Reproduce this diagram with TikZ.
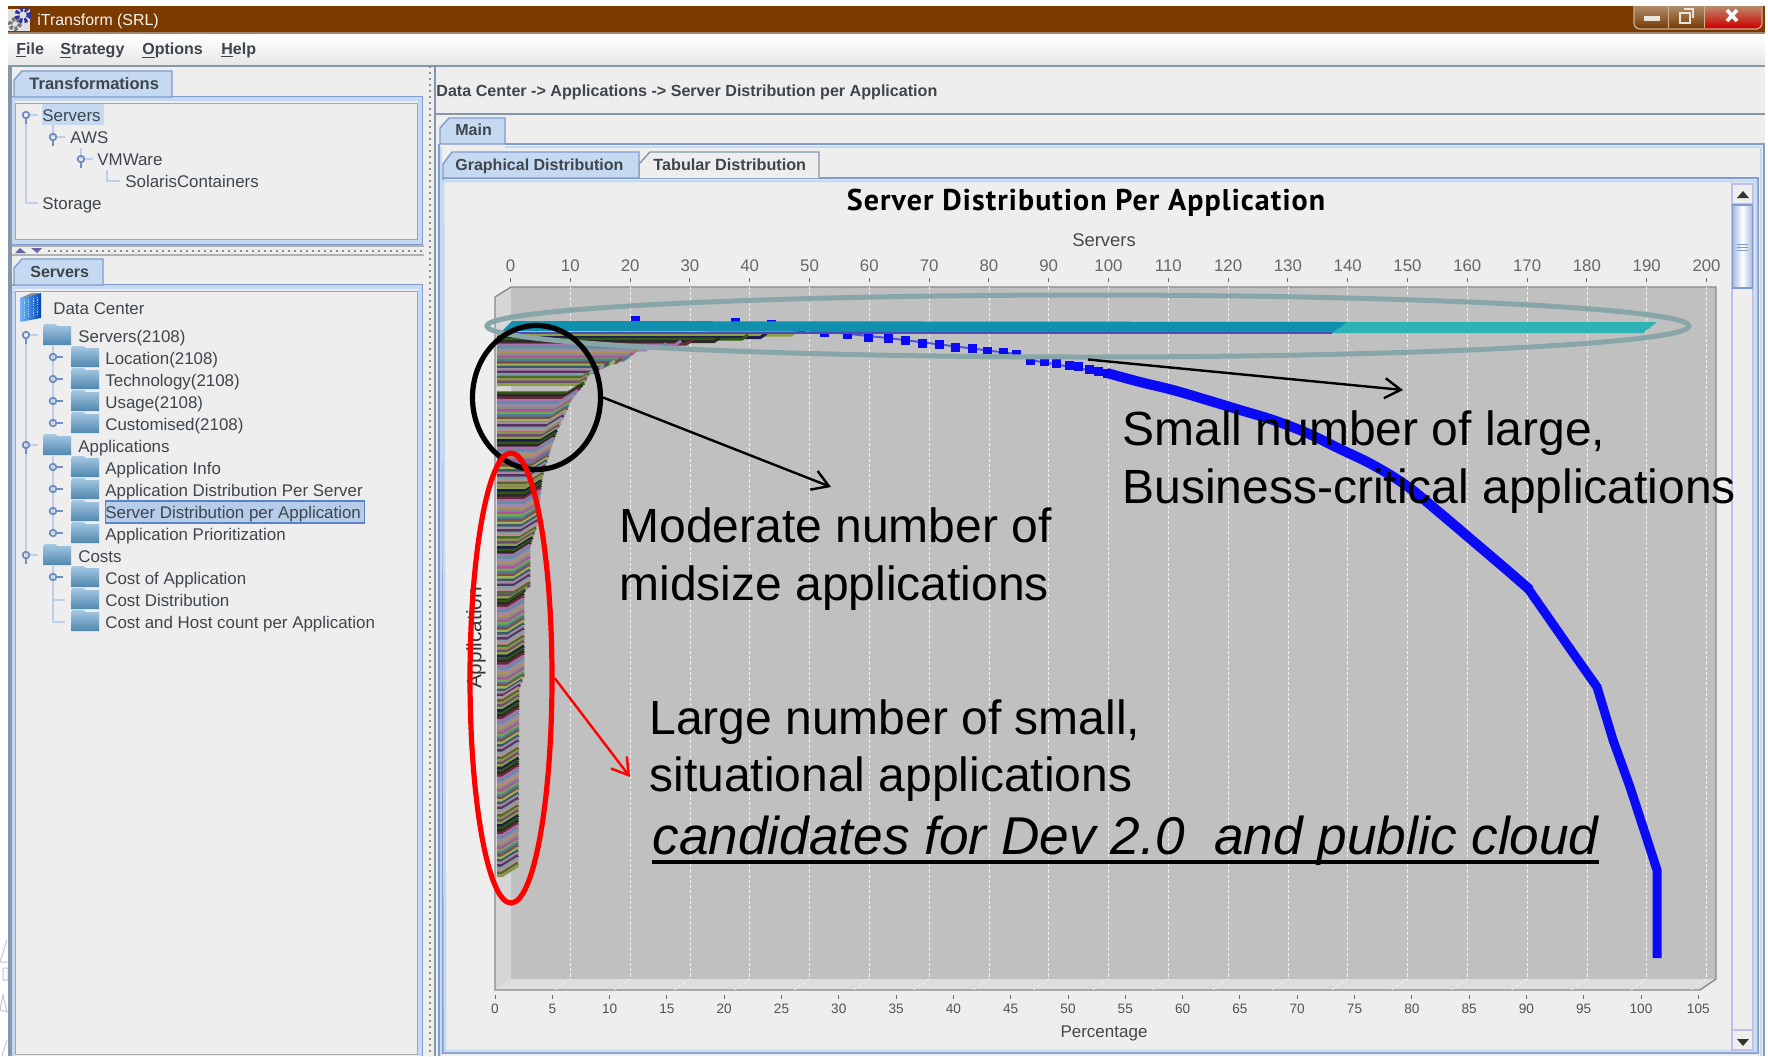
\documentclass[tikz,border=0pt]{standalone}
\usepackage{fontspec}
\usetikzlibrary{shapes.geometric,arrows.meta}
\setmainfont{Liberation Sans}
\newfontfamily\titlefont[LetterSpace=3.6]{PT Sans}
\definecolor{winbg}{HTML}{EEEEEE}
\definecolor{brown}{HTML}{7B3B00}
\definecolor{tabb}{HTML}{7F9BCF}
\definecolor{tabl}{HTML}{C5DAF0}
\definecolor{graybl}{HTML}{8496A8}
\definecolor{treeline}{HTML}{BDD0E8}
\definecolor{handle}{HTML}{6F8FC0}
\definecolor{txt}{HTML}{3E454C}
\definecolor{wall}{HTML}{C0C0C0}
\definecolor{wallL}{HTML}{D6D6D6}
\definecolor{floorc}{HTML}{DDDDDD}
\definecolor{frameg}{HTML}{8A8A8A}
\definecolor{curve}{HTML}{0A0AF5}
\definecolor{ringg}{HTML}{88A5A8}
\definecolor{teal1}{HTML}{2DB3B3}
\definecolor{teal2}{HTML}{1090AE}
\definecolor{foldtop}{HTML}{A6C8E2}
\definecolor{foldbot}{HTML}{4F88B0}
\definecolor{selfill}{HTML}{B5CDE9}
\definecolor{selline}{HTML}{5B82C8}
% bar palette
\definecolor{c0}{HTML}{6A4A78}\definecolor{c1}{HTML}{8AA040}\definecolor{c2}{HTML}{1C1C50}
\definecolor{c3}{HTML}{2F5A10}\definecolor{c4}{HTML}{2A2A2A}\definecolor{c5}{HTML}{6A2A3A}
\definecolor{c6}{HTML}{A870B0}\definecolor{c7}{HTML}{60909A}\definecolor{c8}{HTML}{9A88B8}
\definecolor{c9}{HTML}{B09060}\definecolor{c10}{HTML}{8A8A8A}\definecolor{c11}{HTML}{B050A0}
\definecolor{c12}{HTML}{70A850}\definecolor{c13}{HTML}{507A9A}\definecolor{c14}{HTML}{7A5040}
\definecolor{c15}{HTML}{9CB060}\definecolor{c16}{HTML}{3A5A6A}\definecolor{c17}{HTML}{A08AA0}
\definecolor{c18}{HTML}{5A3060}\definecolor{c19}{HTML}{7AA0A8}\definecolor{c20}{HTML}{C08A90}
\definecolor{c21}{HTML}{4A6A30}\definecolor{c22}{HTML}{909050}
\newcount\barcnt
\tikzset{
  x=0.5pt,y=-0.5pt,
  treelab/.style={anchor=base west,inner sep=0pt,text=txt,font=\fontsize{8.45}{10}\selectfont},
  boldlab/.style={anchor=base west,inner sep=0pt,text=txt,font=\bfseries\fontsize{8}{10}\selectfont},
  toptick/.style={inner sep=0pt,text=black!60,font=\fontsize{8.4}{10}\selectfont},
  bottick/.style={inner sep=0pt,text=black!68,font=\fontsize{6.8}{8}\selectfont},
  axlab/.style={inner sep=0pt,text=black!72},
  callout/.style={anchor=base west,inner sep=0pt,text=black,font=\fontsize{24}{28}\selectfont},
  ring/.style={ellipse,draw,inner sep=0pt,fill=none},
  tip/.style={-{Straight Barb[length=8pt,width=10pt,line width=1.2pt]},line width=1.2pt},
  tabact/.style={fill=tabl,draw=tabb,line width=.7pt},
  tabinact/.style={fill=winbg,draw=graybl,line width=.7pt},
  tl/.style={draw=treeline,line width=.6pt},
  gridl/.style={white!78!wall,line width=.4pt,dash pattern=on 1.6pt off 1pt},
}
\newcommand{\folder}[2]{% x,y centre row
  \path[top color=foldtop,bottom color=foldbot]
    (#1,#2-10)--(#1+2,#2-12)--(#1+12,#2-12)--(#1+15,#2-10)--(#1+28,#2-10)--(#1+28,#2+9)--(#1,#2+9)--cycle;}
\newcommand{\hopen}[2]{% expanded handle
  \draw[handle,line width=.9pt] (#1,#2-1) circle[radius=3.3];
  \draw[handle,line width=1pt] (#1,#2+2.5)--(#1,#2+8);
  \draw[tl] (#1+4,#2-1)--(#1+12,#2-1);}
\newcommand{\hclosed}[2]{% collapsed handle
  \draw[handle,line width=.9pt] (#1,#2-1) circle[radius=3.3];
  \draw[handle,line width=1pt] (#1+3.5,#2-1)--(#1+10,#2-1);}
\begin{document}
\begin{tikzpicture}
\useasboundingbox (0,0) rectangle (1768,1056);
\fill[white] (0,0) rectangle (1768,1056);
% desktop remnants at the left edge
\draw[black!22,line width=.5pt] (7,940)--(0,962)--(8,962) (3,968) rectangle (8,980) (3,995)--(0,1010)--(7,1012)--cycle (7,1040)--(2,1056);
% window
\fill[winbg] (8,6) rectangle (1765,1056);
\fill[brown] (8,6) rectangle (1765,33);
\draw[brown!50!white!85!black,line width=.7pt] (8,33)--(1765,33);
\path[top color=white,bottom color=black!9] (8,34) rectangle (1765,64);
\draw[graybl,line width=1.2pt] (8,66)--(1765,66);
% title icon
\fill[white!88!black] (8,9) rectangle (30,31);
\draw[black!55,line width=2pt,dash pattern=on 1.5pt off 1pt] (15,24) circle[radius=5];
\draw[blue!55!black!80,line width=2.4pt,dash pattern=on 1.5pt off 1pt] (23,15) circle[radius=6];
\node[anchor=base west,inner sep=0pt,text=white!95!brown,font=\fontsize{7.95}{10}\selectfont] (apptitle) at (37,25) {iTransform (SRL)};
% window controls
\path[top color=brown!55!white,bottom color=brown!95!black,rounded corners=3pt] (1634,4) rectangle (1762,29);
\path[top color=red!20!brown!60!white,bottom color=red!80!black] (1704,7) rectangle (1761,28);
\fill[white] (1633,0) rectangle (1764,6);
\draw[brown!40!white,line width=.6pt,rounded corners=3pt] (1634,6)--(1634,29)--(1762,29)--(1762,6);
\draw[brown!40!white,line width=.5pt] (1668,6)--(1668,28) (1704,6)--(1704,28);
\fill[white!85!brown] (1644,16) rectangle (1660,21);
\draw[white!85!brown,line width=.8pt] (1680,13) rectangle (1690,23) (1684,9)--(1693,9)--(1693,18);
\draw[white,line width=1.8pt] (1727,10)--(1737,21) (1737,10)--(1727,21);
% menu
\node[boldlab] (mfile) at (16,54) {\underline{F}ile};
\node[boldlab] (mstrat) at (60,54) {\underline{S}trategy};
\node[boldlab] (mopt) at (142,54) {\underline{O}ptions};
\node[boldlab] (mhelp) at (221,54) {\underline{H}elp};
% left pane: splitters
\fill[graybl] (8,67) rectangle (12,1056);
\draw[graybl,line width=1pt] (435,66)--(435,1056);
\draw[black!45,line width=.6pt,dash pattern=on 1pt off 2pt] (430,66)--(430,1056);
\draw[black!45,line width=.6pt,dash pattern=on 1pt off 2pt] (48,251)--(422,251);
\fill[black!60!blue!60] (15,253)--(20,248)--(26,253)--cycle;
\fill[black!60!blue!60] (31,248)--(42,248)--(37,253)--cycle;
\draw[black!30,line width=.6pt] (12,246)--(424,246) (12,255)--(424,255);
% upper panel
\draw[tabb,line width=1pt] (12,97) rectangle (422,244);
\draw[tabl,line width=1.6pt] (13.5,99) rectangle (420,242);
\draw[black!35,line width=.5pt] (15,103) rectangle (417,239);
\path[tabact] (14,97)--(14,80)--(22,71)--(172,71)--(172,97)--cycle;
\node[boldlab,font=\bfseries\fontsize{8.27}{10}\selectfont] (ttrans) at (29,89) {Transformations};
\fill[tabl] (42,104) rectangle (104,125);
\draw[tl] (26,118)--(26,203)--(38,203);
\draw[tl] (53,125)--(53,137) (81,148)--(81,159);
\draw[tl] (107,170)--(107,181)--(120,181);
\hopen{26}{116}\hopen{53}{138}\hopen{81}{160}
\node[treelab] (t1) at (42,121) {Servers};
\node[treelab] (t2) at (70,143) {AWS};
\node[treelab] (t3) at (97,165) {VMWare};
\node[treelab] (t4) at (125,187) {SolarisContainers};
\node[treelab] (t5) at (42,209) {Storage};
% lower panel
\draw[tabb,line width=1pt] (12,285)--(422,285)--(422,1056);
\draw[tabl,line width=1.6pt] (13.5,287)--(13.5,1056) (13.5,287)--(420,287)--(420,1056);
\draw[black!35,line width=.5pt] (15,291) rectangle (417,1054);
\path[tabact] (14,285)--(14,268)--(22,259)--(103,259)--(103,285)--cycle;
\node[boldlab] (tserv) at (30,277) {Servers};
% data center icon
\path[left color=cyan!45!blue!55!white,right color=blue!60!cyan!70!black] (20,298)--(41,293)--(41,318)--(20,322)--cycle;
\fill[black!45] (20,298)--(32,293)--(41,293)--(30,296)--cycle;
\draw[white!60!cyan,line width=.3pt,dash pattern=on .6pt off .6pt] (24,300)--(24,318) (28,299)--(28,318) (33,298)--(33,317) (37,297)--(37,316);
\node[treelab] (tdc) at (53,314) {Data Center};
% tree lines
\draw[tl] (26,342)--(26,556);
\draw[tl] (53,346)--(53,424) (53,456)--(53,534) (53,566)--(53,622)--(65,622) (53,600)--(65,600);
% rows
\foreach \r/\n/\lab in {336/sa/Servers(2108),446/sb/Applications,556/sc/Costs}{
  \hopen{26}{\r}\folder{43}{\r}
  \node[treelab] (t\n) at (78,\r+6) {\lab};
}
\foreach \r/\n/\lab in {358/la/Location(2108),380/lb/Technology(2108),402/lc/Usage(2108),424/ld/Customised(2108),
   468/le/Application Info,490/lf/Application Distribution Per Server,534/lh/Application Prioritization,578/li/Cost of Application}{
  \hclosed{53}{\r}\folder{71}{\r}
  \node[treelab] (t\n) at (105,\r+6) {\lab};
}
\hclosed{53}{512}\folder{71}{512}
\node[fill=selfill,draw=selline,line width=.7pt,anchor=west,minimum height=11pt,minimum width=129.5pt,inner sep=0pt] (sel) at (105,512) {};
\node[treelab] (tlg) at (105,518) {Server Distribution per Application};
\foreach \r/\n/\lab in {600/lj/Cost Distribution,622/lk/Cost and Host count per Application}{
  \folder{71}{\r}
  \node[treelab] (t\n) at (105,\r+6) {\lab};
}
% right pane
\node[boldlab,font=\bfseries\fontsize{8.05}{10}\selectfont] (crumb) at (436,96) {Data Center -> Applications -> Server Distribution per Application};
\draw[graybl,line width=.6pt] (436,114)--(1765,114);
\draw[tabb,line width=.8pt] (505,144)--(1764,144)--(1764,1056) (439,144)--(439,1056);
\draw[tabl,line width=1.4pt] (505,147)--(1761,147)--(1761,1056) (441,147)--(441,1056);
\path[tabact] (440,144)--(440,128)--(449,118)--(505,118)--(505,144)--cycle;
\node[boldlab] (tmain) at (455,135) {Main};
\draw[tabb,line width=.8pt] (443,178)--(1758,178)--(1758,1053)--(443,1053)--cycle;
\draw[tabl,line width=1.4pt] (443,181)--(1756,181)--(1756,1051)--(445,1051)--cycle;
\path[tabinact] (639,178)--(639,164)--(650,152)--(819,152)--(819,178);
\path[tabact] (443,178)--(443,164)--(452,152)--(639,152)--(639,178)--cycle;
\node[boldlab] (tg) at (455,170) {Graphical Distribution};
\node[boldlab,font=\bfseries\fontsize{8.1}{10}\selectfont] (tt) at (653,170) {Tabular Distribution};
% scrollbar
\draw[black!28!blue!25,line width=.6pt] (1732,184) rectangle (1753,1050);
\draw[black!28!blue!25,line width=.6pt] (1732,204)--(1753,204) (1732,1030)--(1753,1030);
\path[left color=tabb!70,right color=tabb!70,middle color=white] (1732.5,205) rectangle (1752.5,288);
\draw[tabb,line width=.7pt] (1732.5,205) rectangle (1752.5,288);
\draw[tabb,line width=.5pt] (1737,244)--(1748,244) (1737,247)--(1748,247) (1737,250)--(1748,250);
\fill[black!80] (1737,198)--(1743,191)--(1749,198)--cycle;
\fill[black!80] (1737,1039)--(1743,1046)--(1749,1039)--cycle;
% chart title etc
\node[inner sep=0pt,text=black,font=\titlefont\bfseries\fontsize{15}{17}\selectfont] (ctitle) at (1086,203) {Server Distribution Per Application};
\node[axlab,font=\fontsize{9.2}{11}\selectfont] (xtop) at (1104,240) {Servers};
\node[axlab,font=\fontsize{8.5}{10}\selectfont] (xbot) at (1104,1033) {Percentage};
% plot walls
\fill[wall] (511,287) rectangle (1716,979);
\fill[wallL] (495,297)--(511,287)--(511,979)--(495,990)--cycle;
\fill[floorc] (495,990)--(511,979)--(1716,979)--(1700,990)--cycle;
\draw[frameg,line width=.7pt] (495,990)--(495,297)--(511,287)--(1716,287)--(1716,979)--(1700,990)--cycle;
% grid + ticks
\foreach \v in {0,10,...,200}{
  \pgfmathsetmacro\gx{510.5+5.98*\v}
  \draw[black!60,line width=.5pt] (\gx,278)--(\gx,282);
  \node[toptick] (tt\v) at (\gx,266) {\v};
  \ifnum\v>0
  \draw[gridl] (\gx,287)--(\gx,979);
  \draw[gridl] (\gx,979)--(\gx-16,990);
  \fi
}
\foreach \v in {0,5,...,105}{
  \pgfmathsetmacro\gx{495+11.46*\v}
  \draw[black!60,line width=.5pt] (\gx,995)--(\gx,999);
  \node[bottick] (bt\v) at (\gx,1009) {\v};
}
\node[axlab,rotate=90,text=black!78,font=\fontsize{10.4}{12}\selectfont] (ylab) at (476,638) {Application};
% blue curve: squares
\draw[curve!60!wall,line width=1pt] (771,324)--(801,329)--(888,338)--(1016,354)--(1030,360)--(1107,373);
\foreach \px/\py in {635/320,735/322,771/324,801/329,824/332,847/334,868/337,888/338,905/340,922/343,939/344,955/347,972/348,987/351,1003/352,1016/354,1030/360,1044/361,1056/363,1069/365,1078/366,1089/369,1098/371,1107/373}{
  \fill[curve] (\px-4.5,\py-4.5) rectangle (\px+4.5,\py+4.5);
}
\draw[curve,line width=5pt,line cap=butt] plot[smooth,tension=.6] coordinates {(1107,373) (1140,382) (1173,390) (1207,400) (1240,410) (1273,420) (1307,433) (1340,449) (1373,465) (1407,486) (1440,513) (1480,547) (1507,570) (1530,590)};
\draw[curve,line width=4.5pt,line join=miter] (1527,587)--(1550,620)--(1573,653)--(1597,687)--(1613,740)--(1630,787)--(1657,870)--(1657,958);
% multicoloured bars
\foreach \ya/\ra/\yb/\rb in {333/795/337/746,337/746/343/679,343/679/350/638,350/638/358/627,358/627/365/607,365/607/375/587,375/587/385/582,385/582/400/570,400/570/415/563,415/563/425/558,425/558/440/552,440/552/455/547,455/547/480/540,480/540/527/535,527/535/547/528,547/528/587/528,587/528/593/522,593/522/677/522,677/522/690/517,690/517/869/516}{
  \pgfmathtruncatemacro\nn{(\yb-\ya)/2.5}
  \foreach \j in {0,...,\nn}{
    \global\advance\barcnt by 1
    \pgfmathtruncatemacro\k{mod(\the\barcnt,23)}
    \pgfmathsetmacro\yy{\ya+2.5*\j}
    \pgfmathsetmacro\rr{\ra+(\rb-\ra)*\j*2.5/(\yb-\ya)+2}
    \pgfmathsetmacro\hh{\yy<385 ? 4 : 10}
    \pgfmathsetmacro\ww{\yy<385 ? 6 : 16}
    \draw[c\k,line width=1.5pt] (497,\yy-2+\hh)--(\rr-\ww,\yy-2+\hh)--(\rr,\yy-2);
  }
}
% teal bands
\fill[teal1] (1346,322)--(1657,322)--(1643,333)--(1332,333)--cycle;
\fill[teal2] (512,321)--(1347,322)--(1332,333)--(502,331)--cycle;
\draw[blue!60!black!70,line width=.7pt] (505,333)--(1332,333);
% rings
\node[ring,draw=ringg,line width=2.5pt,minimum width=601pt,minimum height=31pt] (grayring) at (1088,326) {};
\node[ring,draw=black,line width=2.6pt,minimum width=64pt,minimum height=72pt] (blackring) at (536.5,397.5) {};
\node[ring,draw=red,line width=2.6pt,minimum width=41pt,minimum height=225pt] (redring) at (511,678) {};
\coordinate (gtip) at (1403,390);
\coordinate (btip) at (831,487);
\coordinate (rtip) at (630,777);
\draw[tip,black] (grayring.south)--(gtip);
\draw[tip,black] (blackring.east)--(btip);
\draw[tip,red] (redring.east)--(rtip);
% callouts
\node[callout] (c1) at (1122,445) {Small number of large,};
\node[callout] (c2) at (1122,503) {Business-critical applications};
\node[callout] (c3) at (619,542) {Moderate number of};
\node[callout] (c4) at (619,600) {midsize applications};
\node[callout] (c5) at (649,734) {Large number of small,};
\node[callout] (c6) at (649,791) {situational applications};
\node[callout,font=\itshape\fontsize{26.6}{30}\selectfont] (c7) at (652,854) {candidates for Dev 2.0\ \ and public cloud};
\draw[black,line width=1.8pt] (c7.south west|-0,862)--(c7.south east|-0,862);
\end{tikzpicture}
\end{document}
